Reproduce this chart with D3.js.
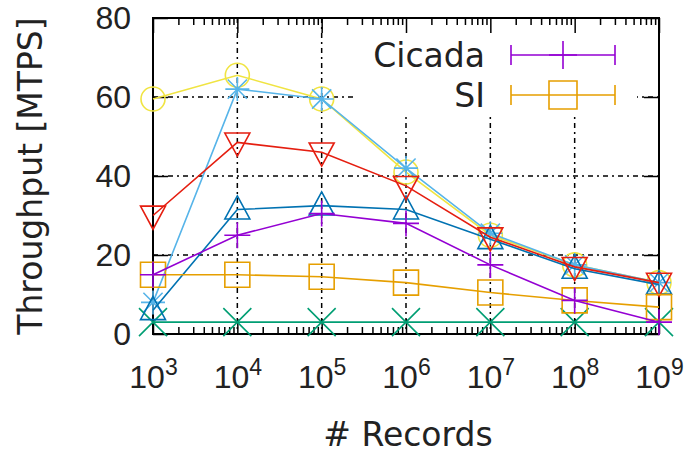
<!DOCTYPE html>
<html>
<head>
<meta charset="utf-8">
<script src="https://cdn.jsdelivr.net/npm/d3@7"></script>
<style>
  body { margin: 0; background: #fff; }
  svg { display: block; font-family: "DejaVu Sans", Verdana, sans-serif; }
</style>
</head>
<body>
<div id="graph"></div>
<script>
// records (x) and throughput series [MTPS]
var records = [1e3, 1e4, 1e5, 1e6, 1e7, 1e8, 1e9];
var cicada  = [15, 25, 30.5, 28, 17.5, 8.5, 3];
var si      = [15, 15, 14.5, 13, 10.5, 8.5, 6.8];
var green   = [3, 3, 3, 3, 3, 3, 3];
var sky     = [8, 62, 59.5, 42, 25.5, 17.5, 13];
var yellow  = [59.5, 65.5, 59.5, 41, 25, 17.5, 13];
var blue    = [6, 31.5, 32.5, 31.5, 24, 16.5, 12.5];
var red     = [30, 48.5, 46, 37.5, 24.5, 17, 13];

var yTicks = [0, 20, 40, 60, 80];
var xExp = [3, 4, 5, 6, 7, 8, 9];

var series = [
  {name: "yellow", vals: yellow, color: "#f0e442", mark: "circle"},
  {name: "sky",    vals: sky,    color: "#56b4e9", mark: "star"},
  {name: "green",  vals: green,  color: "#009e73", mark: "cross"},
  {name: "blue",   vals: blue,   color: "#0072b2", mark: "tri"},
  {name: "red",    vals: red,    color: "#e51e10", mark: "tridown"},
  {name: "SI",     vals: si,     color: "#e69f00", mark: "square"},
  {name: "Cicada", vals: cicada, color: "#9400d3", mark: "plus"}
];
var legendItems = [series[6], series[5]];

var margin = {top: 18, right: 32, bottom: 122, left: 153},
    W = 691, H = 456,
    w = W - margin.left - margin.right,
    h = H - margin.top - margin.bottom;

var x = d3.scaleLog().domain([1e3, 1e9]).range([0, w]);
var y = d3.scaleLinear().domain([0, 80]).range([h, 0]);

var svg = d3.select("#graph").append("svg")
    .attr("width", W).attr("height", H);
var g = svg.append("g")
    .attr("transform", "translate(" + margin.left + "," + margin.top + ")");

// grid
var dash = "5,4,2,4";
g.selectAll(".gx").data(records.slice(1, -1)).enter().append("line")
  .attr("x1", function(d) { return x(d); }).attr("x2", function(d) { return x(d); })
  .attr("y1", 0).attr("y2", h)
  .attr("stroke", "#000").attr("stroke-width", 1.5).attr("stroke-dasharray", dash);
g.selectAll(".gy").data(yTicks.slice(1, -1)).enter().append("line")
  .attr("x1", 0).attr("x2", w)
  .attr("y1", function(d) { return y(d); }).attr("y2", function(d) { return y(d); })
  .attr("stroke", "#000").attr("stroke-width", 1.5).attr("stroke-dasharray", dash);

// legend background (opaque key)
g.append("rect").attr("x", 357 - margin.left).attr("y", 0)
  .attr("width", 280).attr("height", 97).attr("fill", "#fff");

// axes
var minor = [];
for (var e = 3; e < 9; e++) for (var m = 2; m <= 9; m++) minor.push(m * Math.pow(10, e));

function styleAxis(sel) {
  sel.select(".domain").remove();
  sel.selectAll("line").attr("stroke", "#000").attr("stroke-width", 1.5);
}
g.append("g").attr("transform", "translate(0," + h + ")")
  .call(d3.axisBottom(x).tickValues(minor).tickSize(-7).tickFormat(""))
  .call(styleAxis);
g.append("g")
  .call(d3.axisTop(x).tickValues(minor).tickSize(-7).tickFormat(""))
  .call(styleAxis);
g.append("g")
  .call(d3.axisTop(x).tickValues(records).tickSize(-15).tickFormat(""))
  .call(styleAxis);
var xb = g.append("g").attr("transform", "translate(0," + h + ")")
  .call(d3.axisBottom(x).tickValues(records).tickSize(-15).tickFormat(""))
  .call(styleAxis);
xb.selectAll(".tick").append("text")
  .attr("y", 54).attr("fill", "#222").attr("text-anchor", "middle")
  .style("font-size", "32px")
  .each(function(d, i) {
    var t = d3.select(this);
    t.append("tspan").text("10");
    t.append("tspan").attr("dy", -13).style("font-size", "23px").text(xExp[i]);
  });

g.append("g")
  .call(d3.axisLeft(y).tickValues(yTicks).tickSize(-15).tickPadding(22))
  .call(styleAxis)
  .selectAll("text").style("font-size", "32px").attr("fill", "#222");
g.append("g").attr("transform", "translate(" + w + ",0)")
  .call(d3.axisRight(y).tickValues(yTicks).tickSize(-15).tickFormat(""))
  .call(styleAxis);

g.append("rect").attr("width", w).attr("height", h)
  .attr("fill", "none").attr("stroke", "#000").attr("stroke-width", 2);

// markers
function markPath(type, s) {
  switch (type) {
    case "plus": return "M" + -s + ",0H" + s + "M0," + -s + "V" + s;
    case "cross": return "M" + -s + "," + -s + "L" + s + "," + s + "M" + -s + "," + s + "L" + s + "," + -s;
    case "star": var k = s * 0.8;
      return "M" + -s + ",0H" + s + "M0," + -s + "V" + s +
             "M" + -k + "," + -k + "L" + k + "," + k + "M" + -k + "," + k + "L" + k + "," + -k;
    case "square": return "M" + -s + "," + -s + "H" + s + "V" + s + "H" + -s + "Z";
    case "tri": return "M0," + (-s * 1.1) + "L" + s + "," + (s * 0.75) + "L" + -s + "," + (s * 0.75) + "Z";
    case "tridown": return "M0," + (s * 1.1) + "L" + s + "," + (-s * 0.75) + "L" + -s + "," + (-s * 0.75) + "Z";
  }
}
var markSize = {plus: 13, cross: 14, star: 12, square: 12.5, tri: 12.5, tridown: 12.5, circle: 12};

var line = d3.line()
  .x(function(d, i) { return x(records[i]); })
  .y(function(d) { return y(d); });

series.forEach(function(s) {
  var sg = g.append("g");
  sg.append("path").datum(s.vals).attr("d", line)
    .attr("fill", "none").attr("stroke", s.color).attr("stroke-width", 1.6);
  var pts = sg.selectAll(".pt").data(s.vals).enter();
  if (s.mark === "circle") {
    pts.append("circle")
      .attr("cx", function(d, i) { return x(records[i]); })
      .attr("cy", function(d) { return y(d); })
      .attr("r", markSize.circle)
      .attr("fill", "none").attr("stroke", s.color).attr("stroke-width", 1.6);
  } else {
    pts.append("path")
      .attr("transform", function(d, i) { return "translate(" + x(records[i]) + "," + y(d) + ")"; })
      .attr("d", markPath(s.mark, markSize[s.mark]))
      .attr("fill", "none").attr("stroke", s.color).attr("stroke-width", 1.6);
  }
});

// legend
var lg = g.append("g");
legendItems.forEach(function(s, i) {
  var cy = 55 + i * 40 - margin.top;
  lg.append("text").attr("x", 485 - margin.left).attr("y", cy + 12)
    .attr("text-anchor", "end").style("font-size", "33px").attr("fill", "#222").text(s.name);
  var x1 = 511 - margin.left, x2 = 615 - margin.left, xm = 563 - margin.left;
  lg.append("path")
    .attr("d", "M" + x1 + "," + cy + "H" + x2 + "M" + x1 + "," + (cy - 10) + "V" + (cy + 10) +
               "M" + x2 + "," + (cy - 10) + "V" + (cy + 10))
    .attr("fill", "none").attr("stroke", s.color).attr("stroke-width", 1.6);
  lg.append("path").attr("transform", "translate(" + xm + "," + cy + ")")
    .attr("d", markPath(s.mark, 14))
    .attr("fill", "none").attr("stroke", s.color).attr("stroke-width", 1.6);
});

// axis titles
svg.append("text")
  .attr("transform", "translate(42," + (margin.top + h / 2) + ") rotate(-90)")
  .attr("text-anchor", "middle").style("font-size", "33px").attr("fill", "#222")
  .text("Throughput [MTPS]");
svg.append("text")
  .attr("x", 408).attr("y", 446)
  .attr("text-anchor", "middle").style("font-size", "33px").attr("fill", "#222")
  .text("# Records");
</script>
</body>
</html>
